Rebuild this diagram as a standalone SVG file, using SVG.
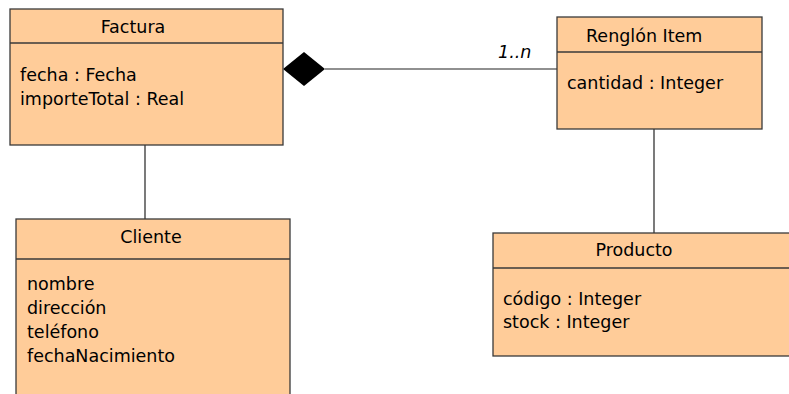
<svg xmlns="http://www.w3.org/2000/svg" width="789" height="394" viewBox="0 0 789 394">
<style>
.box{fill:#FFCC99;stroke:#3a3a3a;stroke-width:1.3}
.div{stroke:#3a3a3a;stroke-width:1.3}
.t{font-family:"DejaVu Sans",Verdana,sans-serif;font-size:17.5px;fill:#000}
.c{text-anchor:middle}
.ln{stroke:#222;stroke-width:1.2;fill:none}
</style>
<rect width="789" height="394" fill="#fff"/>
<g id="connectors">
<line class="ln" x1="325" y1="69" x2="557" y2="69"/>
<polygon points="283,69 304,52 325,69 304,86" fill="#000"/>
<text class="t" x="498" y="58" style="font-style:italic">1..n</text>
<line class="ln" x1="145" y1="145" x2="145" y2="219"/>
<line class="ln" x1="654" y1="129" x2="654" y2="233"/>
</g>
<g id="factura">
<rect class="box" x="10" y="9" width="273" height="136"/>
<line class="div" x1="10" y1="43" x2="283" y2="43"/>
<text class="t c" x="133" y="33">Factura</text>
<text class="t" x="20" y="81">fecha : Fecha</text>
<text class="t" x="20" y="105">importeTotal : Real</text>
</g>
<g id="renglon">
<rect class="box" x="557" y="17" width="205" height="112"/>
<line class="div" x1="557" y1="52" x2="762" y2="52"/>
<text class="t" x="586" y="42">Renglón Item</text>
<text class="t" x="567" y="89">cantidad : Integer</text>
</g>
<g id="cliente">
<rect class="box" x="16" y="219" width="274" height="190"/>
<line class="div" x1="16" y1="259" x2="290" y2="259"/>
<text class="t c" x="151" y="243">Cliente</text>
<text class="t" x="27" y="290">nombre</text>
<text class="t" x="27" y="314">dirección</text>
<text class="t" x="27" y="338">teléfono</text>
<text class="t" x="27" y="362">fechaNacimiento</text>
</g>
<g id="producto">
<rect class="box" x="493" y="233" width="310" height="123"/>
<line class="div" x1="493" y1="268" x2="803" y2="268"/>
<text class="t c" x="634" y="256">Producto</text>
<text class="t" x="503" y="305">código : Integer</text>
<text class="t" x="503" y="328">stock : Integer</text>
</g>
</svg>
